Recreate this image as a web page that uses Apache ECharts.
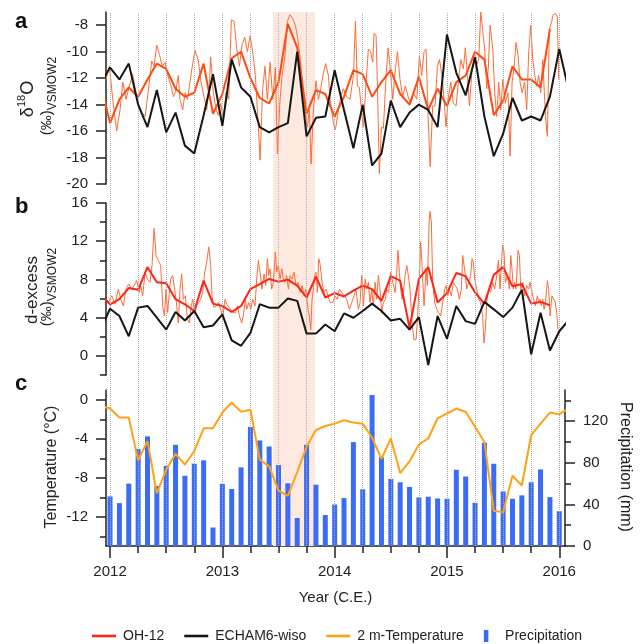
<!DOCTYPE html>
<html><head><meta charset="utf-8">
<script src="https://cdn.jsdelivr.net/npm/echarts@6/dist/echarts.min.js"></script>
<style>html,body{margin:0;padding:0;background:#fff}#c{width:643px;height:644px}</style>
</head><body><div id="c"></div>
<script>
// ---------- DATA ----------
// monthly series start Dec 2011 (one step before Jan 2012)
const monthlyStart = 2011 + 11/12;
const precipStart = 2012;

const echamD18O = [-12.4,-11.2,-12.1,-10.9,-14.0,-15.7,-12.9,-16.1,-14.6,-17.1,-17.7,-14.8,-11.7,-15.6,-10.6,-12.7,-13.4,-15.7,-16.1,-15.7,-15.4,-10.0,-16.4,-15.0,-14.9,-11.4,-14.4,-17.3,-14.0,-18.6,-17.7,-13.7,-15.7,-14.6,-14.0,-14.4,-15.7,-8.7,-11.6,-13.3,-10.4,-14.9,-17.9,-16.2,-13.5,-15.2,-14.9,-15.2,-13.4,-9.8,-12.9];
const oh12D18OMonthly = [-12.4,-15.4,-13.6,-12.7,-13.4,-12.1,-10.9,-11.3,-12.8,-13.4,-13.1,-10.9,-14.7,-13.2,-10.5,-10.0,-12.0,-13.5,-13.9,-12.3,-7.9,-9.7,-14.7,-12.9,-13.2,-14.9,-13.4,-11.4,-11.7,-13.4,-12.3,-11.4,-13.2,-14.0,-11.9,-14.4,-12.8,-14.1,-12.3,-11.8,-10.0,-10.6,-14.8,-13.7,-11.1,-12.1,-12.1,-12.7,-8.3];
const oh12D18OHighRes = [[2011.964,-12.1],[2011.994,-11.1],[2012.024,-13.6],[2012.059,-16.0],[2012.089,-14.4],[2012.113,-12.3],[2012.142,-13.6],[2012.172,-12.6],[2012.202,-11.7],[2012.223,-12.7],[2012.252,-14.0],[2012.282,-14.6],[2012.312,-14.9],[2012.350,-12.3],[2012.371,-10.7],[2012.392,-11.1],[2012.416,-9.5],[2012.439,-10.2],[2012.466,-11.1],[2012.490,-10.8],[2012.514,-11.8],[2012.540,-12.5],[2012.564,-13.4],[2012.585,-13.0],[2012.608,-11.8],[2012.623,-13.6],[2012.647,-14.4],[2012.668,-13.1],[2012.689,-13.6],[2012.712,-12.3],[2012.736,-10.9],[2012.757,-9.9],[2012.787,-10.7],[2012.810,-12.3],[2012.837,-13.4],[2012.861,-14.4],[2012.885,-12.6],[2012.896,-10.4],[2012.920,-13.1],[2012.944,-14.4],[2012.965,-14.8],[2012.985,-13.9],[2013.009,-15.1],[2013.033,-13.1],[2013.057,-13.6],[2013.080,-7.6],[2013.104,-7.7],[2013.128,-9.8],[2013.152,-11.1],[2013.175,-9.5],[2013.199,-8.9],[2013.223,-10.0],[2013.247,-8.8],[2013.270,-10.0],[2013.294,-11.8],[2013.321,-15.7],[2013.336,-18.2],[2013.359,-12.8],[2013.380,-11.1],[2013.401,-13.6],[2013.425,-10.8],[2013.449,-13.6],[2013.472,-11.2],[2013.490,-17.7],[2013.514,-13.6],[2013.532,-11.8],[2013.558,-10.3],[2013.579,-7.7],[2013.603,-7.2],[2013.627,-7.5],[2013.650,-8.0],[2013.671,-9.0],[2013.692,-10.4],[2013.716,-12.6],[2013.736,-14.6],[2013.757,-15.7],[2013.775,-14.4],[2013.790,-18.5],[2013.811,-14.4],[2013.834,-12.2],[2013.855,-13.6],[2013.876,-12.8],[2013.900,-11.6],[2013.920,-10.9],[2013.944,-11.8],[2013.959,-13.6],[2013.989,-15.4],[2014.007,-15.9],[2014.030,-14.6],[2014.054,-13.4],[2014.078,-12.8],[2014.107,-13.4],[2014.137,-13.6],[2014.167,-11.8],[2014.185,-7.7],[2014.202,-12.6],[2014.220,-12.7],[2014.238,-14.4],[2014.256,-15.7],[2014.280,-12.3],[2014.300,-9.8],[2014.321,-10.0],[2014.339,-10.8],[2014.351,-8.6],[2014.369,-8.8],[2014.381,-12.6],[2014.398,-19.2],[2014.416,-15.7],[2014.434,-15.8],[2014.458,-11.8],[2014.476,-9.7],[2014.493,-11.1],[2014.517,-13.6],[2014.541,-11.3],[2014.559,-10.0],[2014.582,-12.1],[2014.606,-13.4],[2014.630,-12.6],[2014.654,-13.4],[2014.677,-13.9],[2014.701,-13.1],[2014.731,-13.6],[2014.755,-10.3],[2014.775,-11.8],[2014.796,-10.0],[2014.814,-9.8],[2014.832,-14.9],[2014.850,-18.7],[2014.873,-14.1],[2014.894,-14.1],[2014.915,-11.1],[2014.933,-10.6],[2014.956,-11.8],[2014.974,-13.6],[2014.992,-15.7],[2015.010,-13.6],[2015.034,-12.3],[2015.057,-13.9],[2015.081,-14.1],[2015.102,-12.3],[2015.123,-10.6],[2015.146,-11.3],[2015.164,-9.7],[2015.182,-11.8],[2015.200,-14.1],[2015.221,-11.6],[2015.241,-10.6],[2015.259,-11.1],[2015.283,-10.6],[2015.301,-7.0],[2015.318,-8.4],[2015.336,-9.8],[2015.354,-12.8],[2015.369,-11.1],[2015.384,-8.0],[2015.408,-9.8],[2015.425,-13.1],[2015.443,-14.9],[2015.461,-12.3],[2015.479,-14.4],[2015.497,-12.1],[2015.520,-13.9],[2015.544,-13.1],[2015.562,-17.9],[2015.580,-12.3],[2015.598,-11.1],[2015.615,-9.3],[2015.633,-10.3],[2015.651,-12.3],[2015.669,-13.1],[2015.692,-12.3],[2015.710,-14.4],[2015.728,-10.0],[2015.746,-8.0],[2015.764,-10.6],[2015.782,-11.8],[2015.799,-12.6],[2015.817,-11.8],[2015.835,-13.1],[2015.853,-10.6],[2015.877,-14.9],[2015.894,-16.4],[2015.912,-8.3],[2015.930,-7.8],[2015.947,-7.2],[2015.965,-7.1],[2015.983,-7.4],[2015.995,-12.1]];

const echamDxs = [2.75,4.94,4.17,2.05,5.05,5.23,4.0,2.75,4.59,3.71,4.70,3.0,3.18,4.34,1.62,1.06,2.40,5.40,5.05,5.05,6.0,5.76,2.33,2.33,3.28,2.58,4.45,3.99,4.70,5.47,4.70,3.71,3.88,2.75,4.06,-0.96,4.17,1.80,5.23,3.64,3.35,5.65,4.87,4.06,5.05,6.92,0.17,4.52,0.56,2.58,3.73];
const oh12DxsMonthly = [6.4,5.40,5.93,7.10,6.92,9.29,7.70,7.59,5.93,5.40,4.70,7.88,5.47,5.23,4.59,5.23,6.99,7.52,8.05,7.77,7.98,7.35,6.11,8.30,6.11,6.57,6.22,6.82,7.35,6.99,5.76,8.34,7.88,2.93,8.05,9.29,5.58,6.57,8.69,8.34,6.64,5.47,8.48,9.29,7.28,7.52,5.47,5.65,5.30];
const oh12DxsHighRes = [[2011.964,5.93],[2011.985,5.58],[2012.015,6.29],[2012.045,5.40],[2012.074,6.99],[2012.095,5.93],[2012.119,5.23],[2012.142,6.99],[2012.166,7.52],[2012.193,6.99],[2012.214,7.35],[2012.237,7.88],[2012.261,6.64],[2012.273,7.35],[2012.291,6.29],[2012.312,8.76],[2012.332,8.05],[2012.356,7.70],[2012.374,9.47],[2012.392,13.35],[2012.410,10.52],[2012.430,9.99],[2012.451,9.47],[2012.469,5.23],[2012.484,4.17],[2012.499,6.99],[2012.513,4.52],[2012.528,6.64],[2012.540,8.05],[2012.558,8.41],[2012.570,7.35],[2012.588,5.93],[2012.608,3.46],[2012.623,6.99],[2012.638,8.58],[2012.653,5.93],[2012.671,6.29],[2012.689,3.81],[2012.706,3.46],[2012.718,4.87],[2012.736,5.93],[2012.754,4.52],[2012.772,5.23],[2012.789,5.58],[2012.807,5.93],[2012.825,6.64],[2012.843,8.76],[2012.861,9.82],[2012.879,11.41],[2012.896,9.47],[2012.908,6.29],[2012.926,5.05],[2012.944,5.23],[2012.965,5.58],[2012.985,4.87],[2013.003,3.99],[2013.024,5.93],[2013.039,5.40],[2013.063,5.05],[2013.080,5.23],[2013.098,4.52],[2013.116,4.52],[2013.134,5.23],[2013.152,4.17],[2013.172,3.46],[2013.187,4.17],[2013.205,5.93],[2013.217,4.87],[2013.235,5.58],[2013.253,4.87],[2013.270,5.93],[2013.291,5.23],[2013.306,8.05],[2013.321,9.99],[2013.336,8.76],[2013.353,6.99],[2013.371,8.58],[2013.386,7.35],[2013.401,10.17],[2013.413,8.41],[2013.425,9.11],[2013.439,6.99],[2013.454,7.70],[2013.472,10.88],[2013.484,8.76],[2013.499,9.47],[2013.514,8.05],[2013.529,9.11],[2013.543,8.05],[2013.558,7.70],[2013.573,8.41],[2013.588,6.99],[2013.603,8.41],[2013.620,8.05],[2013.638,8.76],[2013.656,7.35],[2013.674,7.70],[2013.692,6.64],[2013.710,7.35],[2013.727,6.29],[2013.745,6.99],[2013.763,4.87],[2013.775,4.17],[2013.787,2.75],[2013.799,5.93],[2013.810,6.99],[2013.822,8.41],[2013.834,8.76],[2013.846,6.64],[2013.858,10.17],[2013.870,9.64],[2013.888,7.70],[2013.905,6.64],[2013.923,6.99],[2013.941,6.29],[2013.959,5.58],[2013.983,5.58],[2014.003,6.29],[2014.024,5.93],[2014.042,6.99],[2014.063,6.64],[2014.084,6.29],[2014.107,5.93],[2014.131,4.87],[2014.152,5.58],[2014.173,6.29],[2014.190,6.99],[2014.211,4.87],[2014.226,5.58],[2014.241,8.41],[2014.256,5.23],[2014.271,8.05],[2014.285,6.99],[2014.300,7.70],[2014.315,5.58],[2014.330,6.99],[2014.345,5.23],[2014.360,7.70],[2014.374,5.93],[2014.389,8.41],[2014.404,6.99],[2014.419,4.52],[2014.434,5.58],[2014.452,5.93],[2014.463,6.99],[2014.481,6.64],[2014.499,8.76],[2014.517,7.70],[2014.538,6.64],[2014.552,8.76],[2014.564,11.05],[2014.576,8.76],[2014.588,6.99],[2014.600,5.93],[2014.612,6.64],[2014.627,8.41],[2014.642,9.47],[2014.656,8.41],[2014.671,6.99],[2014.689,3.46],[2014.707,1.70],[2014.725,1.70],[2014.739,4.17],[2014.754,8.05],[2014.766,11.94],[2014.778,9.47],[2014.796,5.23],[2014.814,9.11],[2014.826,7.35],[2014.840,13.70],[2014.849,15.12],[2014.861,14.06],[2014.873,7.70],[2014.891,5.58],[2014.909,4.87],[2014.926,4.52],[2014.944,4.17],[2014.962,5.58],[2014.980,6.99],[2014.992,7.35],[2015.007,6.29],[2015.021,6.99],[2015.039,6.29],[2015.057,7.70],[2015.075,7.35],[2015.093,6.99],[2015.110,5.93],[2015.128,6.99],[2015.140,10.52],[2015.152,10.60],[2015.164,8.41],[2015.176,6.99],[2015.194,7.70],[2015.211,8.41],[2015.223,10.17],[2015.235,9.82],[2015.247,8.05],[2015.265,6.99],[2015.283,5.93],[2015.300,5.58],[2015.318,4.17],[2015.330,1.34],[2015.342,2.75],[2015.354,5.58],[2015.372,6.99],[2015.389,6.64],[2015.407,7.70],[2015.425,6.99],[2015.443,8.41],[2015.458,9.99],[2015.473,6.99],[2015.484,9.47],[2015.496,11.58],[2015.508,10.88],[2015.520,7.70],[2015.538,8.41],[2015.556,6.99],[2015.568,10.52],[2015.579,9.11],[2015.591,6.99],[2015.603,7.70],[2015.615,6.99],[2015.633,11.05],[2015.645,10.52],[2015.657,6.99],[2015.675,7.70],[2015.692,6.29],[2015.710,7.35],[2015.728,6.99],[2015.740,7.70],[2015.752,6.99],[2015.770,5.93],[2015.787,5.23],[2015.805,6.29],[2015.817,5.58],[2015.829,5.93],[2015.841,5.23],[2015.853,5.93],[2015.865,4.87],[2015.877,5.58],[2015.894,7.88],[2015.906,6.99],[2015.918,4.17],[2015.935,6.29],[2015.947,6.29],[2015.965,5.58],[2015.977,4.52],[2015.989,2.75]];

const temperature2m = [-0.64,-0.9,-1.83,-1.83,-6.2,-4.24,-9.59,-7.17,-5.55,-6.66,-5.28,-2.93,-2.93,-1.31,-0.28,-1.24,-1.03,-6.14,-6.83,-9.31,-9.86,-7.41,-4.83,-3.10,-2.69,-2.45,-2.1,-2.34,-2.45,-3.9,-6.07,-3.97,-7.52,-6.31,-4.59,-3.97,-1.9,-1.41,-0.9,-1.24,-2.76,-4.34,-11.38,-11.55,-7.79,-8.79,-3.62,-2.45,-1.31,-1.48,-0.92];
const precipitation = [47.7,41.2,60.0,93.4,105.4,57.7,76.9,97.3,67.5,79.1,82.4,17.8,59.7,54.8,75.6,114.5,101.5,95.7,77.8,60.3,26.9,97.3,59.0,29.8,39.9,46.1,99.9,54.5,145.3,85.3,64.5,61.3,56.8,46.7,47.4,45.7,45.4,73.3,66.8,41.5,99.3,79.1,52.5,45.4,48.7,61.3,73.6,47.0,33.4];

const shadedPeriod = [2013.451, 2013.825];
const yearTicks = [2012, 2013, 2014, 2015, 2016];
const quarterTicks = [2012,2012.25,2012.5,2012.75,2013,2013.25,2013.5,2013.75,2014,2014.25,2014.5,2014.75,2015,2015.25,2015.5,2015.75,2016];
const d18OTicks = [-20,-18,-16,-14,-12,-10,-8];
const dxsTicks = [0,4,8,12,16];
const dxsMinorTicks = [-2,2,6,10,14];
const tempTicks = [-12,-8,-4,0];
const tempMinorTicks = [-14,-10,-6,-2];
const precipTicks = [0,40,80,120];
const precipMinorTicks = [20,60,100,140];

// ---------- BUILD ----------
const monthly = (vals, start) => vals.map((v, i) => [start + i/12, v]);
const FONT = 'Liberation Sans, Arial, Helvetica, sans-serif';
const TXT = '#222';
const XMIN = 2011.964, XMAX = 2016.051;
const L = 106, R = 78;

const grids = [
  {left: L, right: R, top: 12, bottom: 460},
  {left: L, right: R, top: 203, bottom: 269},
  {left: L, right: R, top: 390, bottom: 98},
  {left: L, right: R, top: 12, bottom: 98}
];

function hiddenX(g) {
  return {type: 'value', gridIndex: g, min: XMIN, max: XMAX, show: false, axisLine: {onZero: false}};
}
function yMain(g, min, max, ticks, pos) {
  return {
    type: 'value', gridIndex: g, min: min, max: max, position: pos || 'left',
    axisLine: {show: true, onZero: false, lineStyle: {color: TXT, width: 1.5}},
    axisTick: {show: true, length: 10, customValues: ticks, lineStyle: {color: TXT, width: 1.5}},
    axisLabel: {show: true, customValues: ticks, margin: 18, fontSize: 15, color: TXT, fontFamily: FONT},
    splitLine: {show: false}
  };
}
function yMinor(g, min, max, ticks, pos) {
  return {
    type: 'value', gridIndex: g, min: min, max: max, position: pos || 'left',
    axisLine: {show: false, onZero: false},
    axisTick: {show: true, length: 6, customValues: ticks, lineStyle: {color: TXT, width: 1.5}},
    axisLabel: {show: false},
    splitLine: {show: false}
  };
}

const xAxes = [
  hiddenX(0),
  hiddenX(1),
  {
    type: 'value', gridIndex: 2, min: XMIN, max: XMAX, position: 'bottom',
    axisLine: {show: true, onZero: false, lineStyle: {color: TXT, width: 1.5}},
    axisTick: {show: true, length: 12, customValues: yearTicks, lineStyle: {color: TXT, width: 1.5}},
    axisLabel: {show: true, customValues: yearTicks, margin: 18, fontSize: 15, color: TXT, fontFamily: FONT, formatter: v => String(Math.round(v))},
    splitLine: {show: false},
    name: 'Year (C.E.)', nameLocation: 'middle', nameGap: 44,
    nameTextStyle: {fontSize: 15, color: TXT, fontFamily: FONT}
  },
  {
    type: 'value', gridIndex: 2, min: XMIN, max: XMAX, position: 'bottom',
    axisLine: {show: false, onZero: false},
    axisTick: {show: true, length: 7, customValues: quarterTicks, lineStyle: {color: TXT, width: 1.5}},
    axisLabel: {show: false}, splitLine: {show: false}
  },
  hiddenX(3)
];

const yAxes = [
  yMain(0, -20, -7, d18OTicks),
  yMain(1, -2, 16, dxsTicks),
  yMinor(1, -2, 16, dxsMinorTicks),
  yMain(2, -15, 1, tempTicks),
  yMinor(2, -15, 1, tempMinorTicks),
  yMain(2, 0, 150, precipTicks, 'right'),
  yMinor(2, 0, 150, precipMinorTicks, 'right'),
  {type: 'value', gridIndex: 3, min: 0, max: 1, show: false}
];

function line(name, xi, yi, data, color, width, z) {
  return {
    name: name, type: 'line', xAxisIndex: xi, yAxisIndex: yi, data: data,
    showSymbol: false, symbol: 'none', color: color,
    lineStyle: {color: color, width: width}, z: z || 2, silent: true,
    emphasis: {disabled: true}, clip: true
  };
}

const C_THIN = '#ff6b36', C_THICK_A = '#ff4a12', C_THICK_B = '#ff2419', C_BLACK = '#161616', C_TEMP = '#ffa114', C_BAR = '#3b6cf6';

const series = [
  {type: 'line', xAxisIndex: 4, yAxisIndex: 7, data: [], silent: true, z: 0,
   markArea: {silent: true, itemStyle: {color: '#fde9df'}, data: [[{xAxis: shadedPeriod[0]}, {xAxis: shadedPeriod[1]}]]}},
  {type: 'line', xAxisIndex: 4, yAxisIndex: 7, data: [], silent: true, z: 1,
   markLine: {silent: true, symbol: ['none', 'none'], label: {show: false},
     lineStyle: {color: '#adadad', type: 'dotted', width: 1},
     data: quarterTicks.map(v => ({xAxis: v}))}},
  line('OH-12 δ18O high-res', 0, 0, oh12D18OHighRes, C_THIN, 1, 3),
  line('OH-12 δ18O monthly', 0, 0, monthly(oh12D18OMonthly, monthlyStart), C_THICK_A, 2, 4),
  line('ECHAM6-wiso δ18O', 0, 0, monthly(echamD18O, monthlyStart), C_BLACK, 2, 5),
  line('OH-12 d-excess high-res', 1, 1, oh12DxsHighRes, C_THIN, 1, 3),
  line('OH-12', 1, 1, monthly(oh12DxsMonthly, monthlyStart), C_THICK_B, 2, 4),
  line('ECHAM6-wiso', 1, 1, monthly(echamDxs, monthlyStart), C_BLACK, 2, 5),
  {name: 'Precipitation', type: 'bar', xAxisIndex: 2, yAxisIndex: 5,
   data: monthly(precipitation, precipStart), barWidth: 5, silent: true,
   itemStyle: {color: C_BAR}, z: 3},
  line('2 m-Temperature', 2, 3, monthly(temperature2m, monthlyStart), C_TEMP, 2, 5)
];

const lineIcon = 'path://M0,0H24V2.6H0Z';
const legend = {
  top: 624, left: 87, itemWidth: 24, itemHeight: 12, itemGap: 20, selectedMode: false,
  textStyle: {fontSize: 14, color: TXT, fontFamily: FONT, padding: [0, 0, 0, 2]},
  data: [
    {name: 'OH-12', icon: lineIcon, itemStyle: {color: C_THICK_B, borderWidth: 0}},
    {name: 'ECHAM6-wiso', icon: lineIcon, itemStyle: {color: C_BLACK, borderWidth: 0}},
    {name: '2 m-Temperature', icon: lineIcon, itemStyle: {color: C_TEMP, borderWidth: 0}},
    {name: 'Precipitation', icon: 'path://M0,0H4.5V12H0Z', itemStyle: {color: C_BAR, borderWidth: 0}}
  ]
};

function vText(x, y, rot, text, rich, baseSize) {
  return {type: 'text', x: x, y: y, rotation: rot, silent: true,
    style: {text: text, rich: rich, fontSize: baseSize, fontFamily: FONT, fill: TXT, align: 'center', verticalAlign: 'middle'}};
}
const richIso = {
  m: {fontSize: 18, lineHeight: 24, fontFamily: FONT, fill: TXT},
  s: {fontSize: 11, lineHeight: 12, verticalAlign: 'top', fontFamily: FONT, fill: TXT}
};
const richUnit = {
  m: {fontSize: 15, lineHeight: 24, fontFamily: FONT, fill: TXT},
  b: {fontSize: 12, lineHeight: 13, verticalAlign: 'bottom', fontFamily: FONT, fill: TXT}
};
const richPlain = {m: {fontSize: 17, lineHeight: 22, fontFamily: FONT, fill: TXT}};

const graphic = [
  {type: 'text', x: 15, y: 22, silent: true, style: {text: 'a', fontSize: 22, fontWeight: 'bold', fontFamily: FONT, fill: '#111', verticalAlign: 'middle'}},
  {type: 'text', x: 15, y: 207, silent: true, style: {text: 'b', fontSize: 22, fontWeight: 'bold', fontFamily: FONT, fill: '#111', verticalAlign: 'middle'}},
  {type: 'text', x: 15, y: 384, silent: true, style: {text: 'c', fontSize: 22, fontWeight: 'bold', fontFamily: FONT, fill: '#111', verticalAlign: 'middle'}},
  vText(28, 99, Math.PI/2, '{m|δ}{s|18}{m|O}', richIso, 18),
  vText(47, 96, Math.PI/2, '{m|(‰)}{b|VSMOW2}', richUnit, 15),
  vText(32, 290, Math.PI/2, '{m|d-excess}', richPlain, 17),
  vText(47, 287, Math.PI/2, '{m|(‰)}{b|VSMOW2}', richUnit, 15),
  vText(52, 467, Math.PI/2, '{m|Temperature (°C)}', {m: {fontSize: 16, lineHeight: 20, fontFamily: FONT, fill: TXT}}, 16),
  vText(625, 467, -Math.PI/2, '{m|Precipitation (mm)}', {m: {fontSize: 16, lineHeight: 20, fontFamily: FONT, fill: TXT}}, 16)
];

const chart = echarts.init(document.getElementById('c'), null, {renderer: 'canvas'});
chart.setOption({
  animation: false,
  backgroundColor: '#fff',
  textStyle: {fontFamily: FONT},
  grid: grids, xAxis: xAxes, yAxis: yAxes, series: series, legend: legend, graphic: graphic
});
</script></body></html>
